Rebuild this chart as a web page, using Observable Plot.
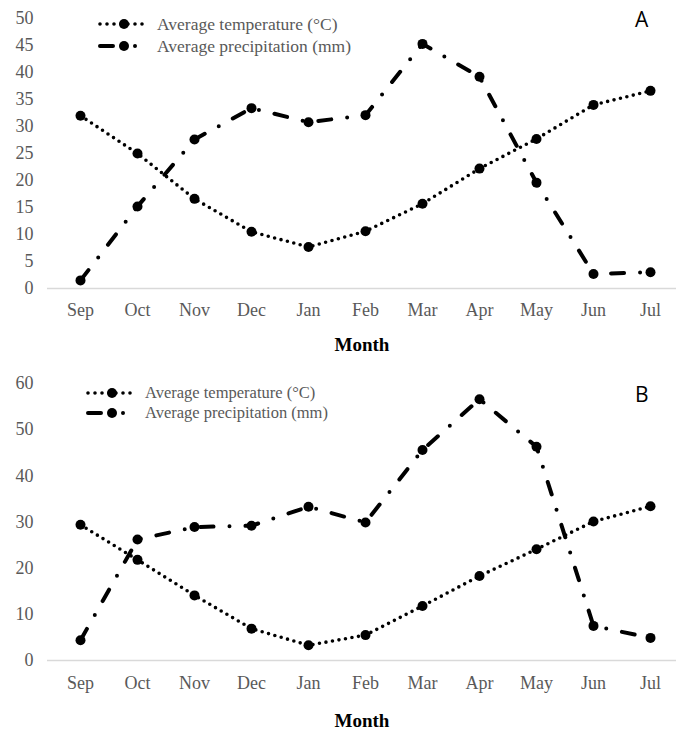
<!DOCTYPE html>
<html><head><meta charset="utf-8">
<script src="https://cdn.jsdelivr.net/npm/d3@7"></script>
<script src="https://cdn.jsdelivr.net/npm/@observablehq/plot@0.6"></script>
<style>
body{margin:0;background:#fff;}
#wrap{position:relative;width:676px;height:734px;font-family:"Liberation Serif","Times New Roman",serif;overflow:hidden;}
.panel{position:relative;width:676px;}
.panel svg{display:block;}
.lg{position:absolute;font-size:17.5px;color:#595959;white-space:nowrap;line-height:16px;height:16px;}
.lg.tight{font-size:16.5px;}
.tag{position:absolute;font-family:"Open Sans","Liberation Sans",sans-serif;font-size:21px;color:#000;line-height:24px;}
</style></head>
<body><div id="wrap"></div>
<script>
const months = ["Sep","Oct","Nov","Dec","Jan","Feb","Mar","Apr","May","Jun","Jul"];
const tempA = [32, 25, 16.6, 10.5, 7.7, 10.6, 15.7, 22.2, 27.7, 34, 36.6];
const precA = [1.5, 15.2, 27.6, 33.4, 30.8, 32.1, 45.3, 39.2, 19.6, 2.7, 3.0];
const tempB = [29.4, 21.8, 14.1, 6.9, 3.3, 5.5, 11.8, 18.3, 24.1, 30.1, 33.4];
const precB = [4.4, 26.2, 28.9, 29.2, 33.3, 29.9, 45.6, 56.6, 46.3, 7.5, 4.9];
const ticksA = [0,5,10,15,20,25,30,35,40,45,50];
const ticksB = [0,10,20,30,40,50,60];
const legendLabels = ["Average temperature (°C)", "Average precipitation (mm)"];

const TEMP_DASH = "0 6.6";
const PREC_DASH = "13 16 0 16";

function panel({temp, prec, ticks, ymax, height, marginTop, marginBottom, tickPad, monthDy, tag, tagPos, lgX, lgY, tight}) {
  const rows = months.map((m,i)=>({m, t: temp[i], p: prec[i]}));
  const div = document.createElement("div");
  div.className = "panel";
  div.style.height = height + "px";
  const chart = Plot.plot({
    width: 676, height, marginLeft: 47, marginRight: 0, marginTop, marginBottom,
    style: {fontFamily: '"Liberation Serif","Times New Roman",serif', fontSize: "18px", background: "#fff", color: "#595959"},
    x: {type: "point", domain: months, range: [76, 654], padding: 0, align: 0.5, label: null, tickSize: 0, tickPadding: tickPad},
    y: {domain: [0, ymax], ticks, label: null, tickSize: 0, tickPadding: 14},
    marks: [
      Plot.ruleY([0], {stroke: "#d9d9d9", strokeWidth: 1.5}),
      Plot.line(rows, {x: "m", y: "p", stroke: "#000", strokeWidth: 4, strokeDasharray: PREC_DASH, strokeLinecap: "round"}),
      Plot.line(rows, {x: "m", y: "t", stroke: "#000", strokeWidth: 3.6, strokeDasharray: TEMP_DASH, strokeLinecap: "round"}),
      Plot.dot(rows, {x: "m", y: "p", r: 5, fill: "#000"}),
      Plot.dot(rows, {x: "m", y: "t", r: 5, fill: "#000"}),
      Plot.text(["Month"], {frameAnchor: "bottom", dy: monthDy, fontWeight: "bold", fontSize: 19, fill: "#000", lineAnchor: "middle"})
    ]
  });
  div.appendChild(chart);
  const ns = "http://www.w3.org/2000/svg";
  [[TEMP_DASH, 3.6], [PREC_DASH, 4]].forEach(([dash, sw], k) => {
    const row = document.createElement("div");
    row.className = tight ? "lg tight" : "lg";
    row.style.left = (lgX + 57) + "px";
    row.style.top = (lgY[k] - 8) + "px";
    row.textContent = legendLabels[k];
    div.appendChild(row);
    const s = document.createElementNS(ns, "svg");
    s.setAttribute("width", 60); s.setAttribute("height", 14);
    s.style.position = "absolute";
    s.style.left = (lgX - 3) + "px";
    s.style.top = (lgY[k] - 7) + "px";
    const ln = document.createElementNS(ns, "line");
    ln.setAttribute("x1", 3); ln.setAttribute("x2", 49); ln.setAttribute("y1", 7); ln.setAttribute("y2", 7);
    ln.setAttribute("stroke", "#000"); ln.setAttribute("stroke-width", sw);
    ln.setAttribute("stroke-linecap", "round");
    ln.setAttribute("stroke-dasharray", k === 0 ? "0 7" : "13 22 0 12");
    s.appendChild(ln);
    const c = document.createElementNS(ns, "circle");
    c.setAttribute("cx", 27); c.setAttribute("cy", 7); c.setAttribute("r", 5); c.setAttribute("fill", "#000");
    s.appendChild(c);
    div.appendChild(s);
  });
  const t = document.createElement("div");
  t.className = "tag"; t.textContent = tag;
  t.style.left = tagPos[0] + "px"; t.style.top = tagPos[1] + "px";
  div.appendChild(t);
  return div;
}

const wrap = document.getElementById("wrap");
wrap.appendChild(panel({temp: tempA, prec: precA, ticks: ticksA, ymax: 50, height: 366, marginTop: 18, marginBottom: 78, tickPad: 15, monthDy: 56, tag: "A", tagPos: [635, 7], lgX: 100, lgY: [24, 46], tight: false}));
wrap.appendChild(panel({temp: tempB, prec: precB, ticks: ticksB, ymax: 60, height: 368, marginTop: 17, marginBottom: 74, tickPad: 16, monthDy: 60, tag: "B", tagPos: [635, 16], lgX: 88, lgY: [27, 47], tight: true}));
</script></body></html>
